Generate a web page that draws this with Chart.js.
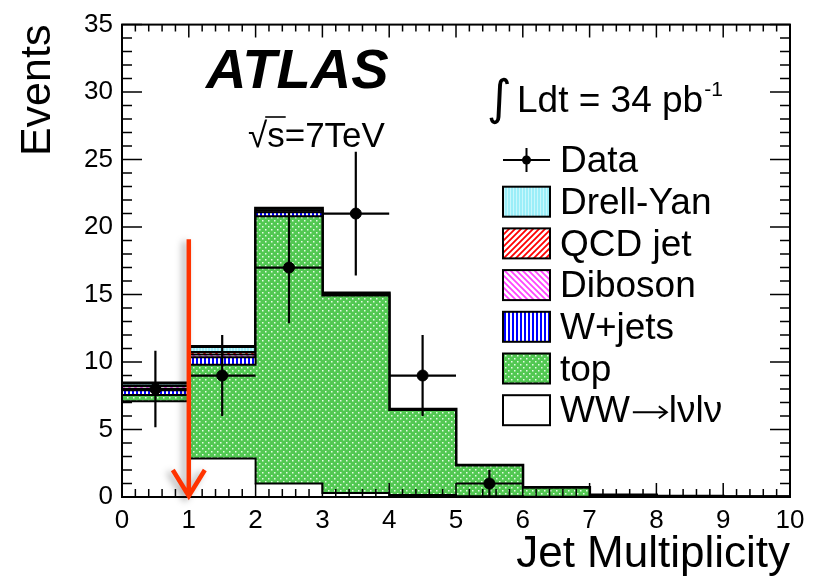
<!DOCTYPE html>
<html>
<head>
<meta charset="utf-8">
<title>Jet Multiplicity</title>
<script src="https://cdn.jsdelivr.net/npm/chart.js@4.4.0/dist/chart.umd.min.js"></script>
<style>
  body { margin: 0; background: #fff; }
  canvas { display: block; }
</style>
</head>
<body>
<canvas id="jetChart" width="816" height="581"></canvas>
<script>
// Bordes de los bins de multiplicidad de jets
var bordesBins = [0, 1, 2, 3, 4, 5, 6, 7, 8, 9, 10];
var ticksY = [0, 5, 10, 15, 20, 25, 30, 35];

// Contribuciones esperadas por bin (eventos), de abajo hacia arriba en el stack
var wwLvLv   = [7.10, 2.85, 1.00, 0.30, 0.15, 0.05, 0.02, 0.01, 0.01, 0.00];
var topQuark = [0.45, 6.95, 19.80, 14.62, 6.30, 2.28, 0.66, 0.14, 0.05, 0.02];
var wJets    = [0.35, 0.55, 0.30, 0.10, 0.03, 0.01, 0.01, 0.00, 0.00, 0.00];
var diboson  = [0.30, 0.20, 0.10, 0.05, 0.01, 0.01, 0.01, 0.00, 0.00, 0.00];
var qcdJet   = [0.05, 0.20, 0.05, 0.02, 0.00, 0.00, 0.00, 0.00, 0.00, 0.00];
var drellYan = [0.20, 0.40, 0.15, 0.03, 0.01, 0.00, 0.00, 0.00, 0.00, 0.00];

// Datos observados: centro del bin, eventos y error
var datosX       = [0.5, 1.5, 2.5, 3.5, 4.5, 5.5];
var datosEventos = [8, 9, 17, 21, 9, 1];
var datosError   = [2.83, 3.0, 4.12, 4.58, 3.0, 1.0];

// Corte en la multiplicidad (flecha roja)
var corteX = 1;
var corteAltura = 19.1;

var fuente = "'Liberation Sans', Arial, Helvetica, sans-serif";

// Crea un patron de relleno estilo ROOT
function crearPatron(tam, dibujar) {
  var c = document.createElement('canvas');
  c.width = tam;
  c.height = tam;
  var g = c.getContext('2d');
  dibujar(g, tam);
  return g.createPattern(c, 'repeat');
}

function rayado(color, sentido) {
  return crearPatron(6, function (g, s) {
    g.fillStyle = '#fff';
    g.fillRect(0, 0, s, s);
    g.strokeStyle = color;
    g.lineWidth = 1.8;
    g.beginPath();
    if (sentido > 0) {
      g.moveTo(-1, s + 1); g.lineTo(s + 1, -1);
      g.moveTo(-1, 1); g.lineTo(1, -1);
      g.moveTo(s - 1, s + 1); g.lineTo(s + 1, s - 1);
    } else {
      g.moveTo(-1, -1); g.lineTo(s + 1, s + 1);
      g.moveTo(s - 1, -1); g.lineTo(s + 1, 1);
      g.moveTo(-1, s - 1); g.lineTo(1, s + 1);
    }
    g.stroke();
  });
}

var patronDY = crearPatron(3, function (g, s) {
  g.fillStyle = '#9beef8';
  g.fillRect(0, 0, s, s);
  g.fillStyle = '#c9f7fc';
  g.fillRect(0, 0, 1, s);
});
var patronQCD = rayado('#ff0000', 1);
var patronDiboson = rayado('#ff44ff', -1);
var patronWJets = crearPatron(4, function (g, s) {
  g.fillStyle = '#fff';
  g.fillRect(0, 0, s, s);
  g.fillStyle = '#0000ff';
  g.fillRect(0, 0, 2, s);
});
var patronTop = crearPatron(6, function (g, s) {
  g.fillStyle = '#52c852';
  g.fillRect(0, 0, s, s);
  g.fillStyle = '#e6fbe6';
  g.fillRect(1, 1, 1.5, 1.5);
  g.fillRect(4, 4, 1.5, 1.5);
});

// Componentes del stack (de abajo hacia arriba)
var componentes = [
  { label: 'WW\u2192l\u03bdl\u03bd', valores: wwLvLv, relleno: '#ffffff' },
  { label: 'top', valores: topQuark, relleno: patronTop },
  { label: 'W+jets', valores: wJets, relleno: patronWJets },
  { label: 'Diboson', valores: diboson, relleno: patronDiboson },
  { label: 'QCD jet', valores: qcdJet, relleno: patronQCD },
  { label: 'Drell-Yan', valores: drellYan, relleno: patronDY }
];

// Suma acumulada y datasets escalonados (cada bin empieza en su borde izquierdo)
var acumulado = bordesBins.slice(0, -1).map(function () { return 0; });
var datasetsStack = componentes.map(function (comp, k) {
  acumulado = acumulado.map(function (v, i) { return v + comp.valores[i]; });
  var puntos = acumulado.map(function (v, i) { return { x: bordesBins[i], y: v }; });
  puntos.push({ x: bordesBins[bordesBins.length - 1], y: acumulado[acumulado.length - 1] });
  return {
    label: comp.label,
    data: puntos,
    stepped: 'before',
    fill: 'origin',
    backgroundColor: comp.relleno,
    borderColor: '#000',
    borderWidth: k === componentes.length - 1 ? 3 : 2,
    pointRadius: 0
  };
});

var datasetDatos = {
  label: 'Data',
  data: datosX.map(function (x, i) { return { x: x, y: datosEventos[i] }; }),
  showLine: false,
  pointRadius: 5.5,
  pointBackgroundColor: '#000',
  pointBorderColor: '#000'
};

// Barras de error de los datos
var erroresPlugin = {
  id: 'errores',
  afterDatasetsDraw: function (chart) {
    var ctx = chart.ctx, sx = chart.scales.x, sy = chart.scales.y;
    ctx.save();
    ctx.strokeStyle = '#000';
    ctx.lineWidth = 2.2;
    datosX.forEach(function (x, i) {
      var px = sx.getPixelForValue(x), py = sy.getPixelForValue(datosEventos[i]);
      ctx.beginPath();
      ctx.moveTo(px, sy.getPixelForValue(datosEventos[i] - datosError[i]));
      ctx.lineTo(px, sy.getPixelForValue(datosEventos[i] + datosError[i]));
      ctx.moveTo(sx.getPixelForValue(x - 0.5), py);
      ctx.lineTo(sx.getPixelForValue(x + 0.5), py);
      ctx.stroke();
    });
    ctx.restore();
  }
};

// Marco con ticks hacia dentro en los cuatro lados
var marcoPlugin = {
  id: 'marco',
  afterDatasetsDraw: function (chart) {
    var ctx = chart.ctx, a = chart.chartArea, sx = chart.scales.x, sy = chart.scales.y;
    ctx.save();
    ctx.strokeStyle = '#000';
    ctx.lineWidth = 1.5;
    ctx.beginPath();
    for (var i = 0; i <= 50; i++) {
      var px = sx.getPixelForValue(i * 0.2);
      var mayor = i % 5 === 0;
      ctx.moveTo(px, a.bottom); ctx.lineTo(px, a.bottom - (mayor ? 14 : 8));
      ctx.moveTo(px, a.top); ctx.lineTo(px, a.top + (mayor ? 13 : 7));
    }
    for (var j = 0; j <= 35; j++) {
      var py = sy.getPixelForValue(j);
      var largo = j % 5 === 0 ? 20 : 10;
      ctx.moveTo(a.left, py); ctx.lineTo(a.left + largo, py);
      ctx.moveTo(a.right, py); ctx.lineTo(a.right - largo, py);
    }
    ctx.stroke();
    ctx.lineWidth = 2;
    ctx.strokeRect(a.left, a.top, a.right - a.left, a.bottom - a.top);
    ctx.restore();
  }
};

// Flecha del corte
var flechaPlugin = {
  id: 'flecha',
  afterDraw: function (chart) {
    var ctx = chart.ctx, sx = chart.scales.x, sy = chart.scales.y;
    var px = sx.getPixelForValue(corteX);
    var y0 = sy.getPixelForValue(0), y1 = sy.getPixelForValue(corteAltura);
    ctx.save();
    ctx.strokeStyle = '#ff3300';
    ctx.lineWidth = 4.5;
    ctx.lineJoin = 'miter';
    ctx.shadowColor = 'rgba(0,0,0,0.35)';
    ctx.shadowBlur = 7;
    ctx.shadowOffsetX = -4;
    ctx.shadowOffsetY = 2;
    ctx.beginPath();
    ctx.moveTo(px, y1);
    ctx.lineTo(px, y0 - 3);
    ctx.moveTo(px - 16, y0 - 27);
    ctx.lineTo(px, y0 - 1);
    ctx.lineTo(px + 16, y0 - 27);
    ctx.stroke();
    ctx.restore();
  }
};

// Texto con flecha larga para la etiqueta WW->lvlv
function textoConFlecha(ctx, texto, x, y) {
  var partes = texto.split('\u2192');
  ctx.fillText(partes[0], x, y);
  var w0 = ctx.measureText(partes[0]).width;
  var xa = x + w0 + 3, largo = 34;
  ctx.save();
  ctx.lineWidth = 2;
  ctx.beginPath();
  ctx.moveTo(xa, y);
  ctx.lineTo(xa + largo, y);
  ctx.moveTo(xa + largo - 8, y - 6);
  ctx.lineTo(xa + largo, y);
  ctx.lineTo(xa + largo - 8, y + 6);
  ctx.stroke();
  ctx.restore();
  ctx.fillText(partes[1], xa + largo + 2, y);
}

// Textos y leyenda
var leyendaPlugin = {
  id: 'leyenda',
  afterDraw: function (chart) {
    var ctx = chart.ctx;
    ctx.save();
    ctx.fillStyle = '#000';
    ctx.textBaseline = 'alphabetic';

    ctx.font = 'italic bold 56px ' + fuente;
    ctx.fillText('ATLAS', 206, 88);

    // raiz de s
    ctx.font = '35px ' + fuente;
    var xr = 248, base = 147;
    ctx.fillText('\u221a', xr, base);
    var wr = ctx.measureText('\u221a').width;
    ctx.fillText('s=7TeV', xr + wr, base);
    var ws = ctx.measureText('s').width;
    ctx.lineWidth = 1.6;
    ctx.beginPath();
    ctx.moveTo(xr + wr - 2, base - 30);
    ctx.lineTo(xr + wr + ws + 1, base - 30);
    ctx.stroke();

    // luminosidad integrada
    ctx.font = '48px DejaVu Sans';
    ctx.fillText('\u222b', 487, 114);
    ctx.font = '37px ' + fuente;
    ctx.fillText('Ldt = 34 pb', 517, 112);
    var wl = ctx.measureText('Ldt = 34 pb').width;
    ctx.font = '21px ' + fuente;
    ctx.fillText('-1', 517 + wl + 1, 96);

    // entradas de la leyenda
    var x0 = 503, ancho = 47, alto = 30, xt = 560, paso = 41.7, yc = 160;
    ctx.font = '37px ' + fuente;
    ctx.textBaseline = 'middle';
    ctx.strokeStyle = '#000';
    ctx.lineWidth = 2;
    ctx.beginPath();
    ctx.moveTo(x0, yc); ctx.lineTo(x0 + ancho, yc);
    ctx.moveTo(x0 + ancho / 2, yc - 12); ctx.lineTo(x0 + ancho / 2, yc + 12);
    ctx.stroke();
    ctx.beginPath();
    ctx.arc(x0 + ancho / 2, yc, 4.5, 0, Math.PI * 2);
    ctx.fill();
    ctx.fillText('Data', xt, yc + 2);

    componentes.slice().reverse().forEach(function (comp, i) {
      var y = yc + paso * (i + 1);
      ctx.fillStyle = comp.relleno;
      ctx.fillRect(x0, y - alto / 2, ancho, alto);
      ctx.strokeRect(x0, y - alto / 2, ancho, alto);
      ctx.fillStyle = '#000';
      if (comp.label.indexOf('\u2192') >= 0) {
        textoConFlecha(ctx, comp.label, xt, y + 2);
      } else {
        ctx.fillText(comp.label, xt, y + 2);
      }
    });
    ctx.restore();
  }
};

Chart.defaults.font.family = fuente;
Chart.defaults.color = '#000';

new Chart(document.getElementById('jetChart'), {
  type: 'line',
  data: { datasets: [datasetDatos].concat(datasetsStack) },
  options: {
    responsive: false,
    devicePixelRatio: 1,
    animation: false,
    layout: { padding: { left: 0, right: 26, top: 18, bottom: 0 } },
    plugins: { legend: { display: false }, tooltip: { enabled: false } },
    scales: {
      x: {
        type: 'linear',
        min: 0,
        max: 10,
        afterBuildTicks: function (s) { s.ticks = bordesBins.map(function (v) { return { value: v }; }); },
        afterFit: function (s) { s.height = 84; },
        grid: { display: false, drawTicks: false },
        border: { display: false },
        ticks: { font: { size: 26 }, padding: 8, maxRotation: 0, autoSkip: false },
        title: { display: true, text: 'Jet Multiplicity', align: 'end', font: { size: 44 }, padding: { top: 0, bottom: 0 } }
      },
      y: {
        type: 'linear',
        min: 0,
        max: 35,
        afterBuildTicks: function (s) { s.ticks = ticksY.map(function (v) { return { value: v }; }); },
        afterFit: function (s) { s.width = 122; },
        grid: { display: false, drawTicks: false },
        border: { display: false },
        ticks: { font: { size: 26 }, padding: 9 },
        title: { display: true, text: 'Events', align: 'end', font: { size: 43 }, padding: { top: 12, bottom: 0 } }
      }
    }
  },
  plugins: [marcoPlugin, erroresPlugin, flechaPlugin, leyendaPlugin]
});
</script>
</body>
</html>
